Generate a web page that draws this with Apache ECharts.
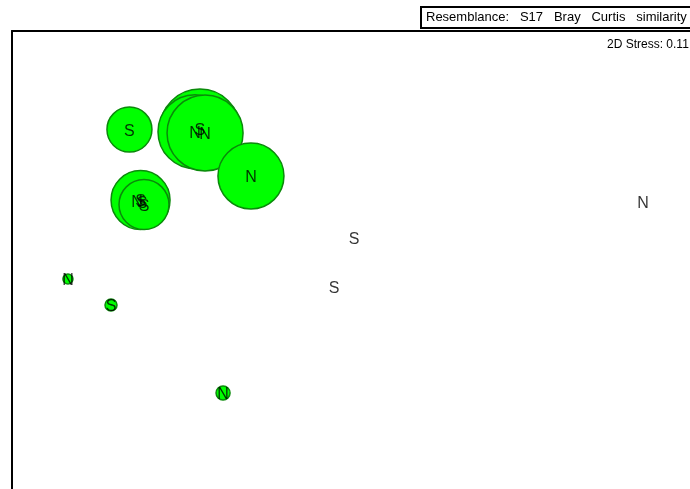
<!DOCTYPE html>
<html>
<head>
<meta charset="utf-8">
<script src="https://cdn.jsdelivr.net/npm/echarts@6/dist/echarts.min.js"></script>
<style>
  html, body { margin: 0; padding: 0; background: #fff; }
  #chart { width: 690px; height: 489px; }
</style>
</head>
<body>
<div id="chart"></div>
<script>
// MDS ordination (arbitrary units), one entry per sample
var sites = ["N", "S", "S", "S", "N", "N", "N", "S", "S", "N", "S", "N", "N", "S", "S"];
var mdsX = [-0.667, -0.633, -0.247, -0.717, -0.280, -0.213, 0.093, -0.643, -0.620, -1.127, -0.840, -0.093, 2.707, 0.780, 0.647];
var mdsY = [0.067, 0.060, 0.547, 0.543, 0.529, 0.520, 0.233, 0.073, 0.043, -0.453, -0.627, -1.213, 0.060, -0.180, -0.507];
// bubble variable (drawn as circle diameter)
var bubble = [44, 40, 80, 45, 74, 76, 66, 59, 50, 10, 12, 14, 0, 0, 0];

var chart = echarts.init(document.getElementById("chart"));

var bubbleData = [], labelData = [];
sites.forEach(function (s, i) {
  bubbleData.push({ value: [mdsX[i], mdsY[i]], symbolSize: bubble[i] });
  labelData.push({ value: [mdsX[i], mdsY[i]], name: s });
});

var labelFont = "Liberation Sans, Arial, sans-serif";
var frameLine = { show: true, onZero: false, lineStyle: { color: "#000", width: 2 } };

chart.setOption({
  animation: false,
  grid: { left: 12, top: 31, right: 0, bottom: 0, outerBoundsMode: "none" },
  xAxis: {
    type: "value", min: -1.5, max: 3.02, position: "top",
    axisLine: frameLine, axisTick: { show: false }, axisLabel: { show: false }, splitLine: { show: false }
  },
  yAxis: {
    type: "value", min: -1.853, max: 1.2, position: "left",
    axisLine: frameLine, axisTick: { show: false }, axisLabel: { show: false }, splitLine: { show: false }
  },
  title: {
    text: "Resemblance:   S17   Bray   Curtis   similarity",
    left: 421, top: 7,
    padding: [4, 20, 4, 5],
    borderColor: "#000", borderWidth: 2,
    textStyle: { fontSize: 13, fontWeight: "normal", color: "#000", fontFamily: labelFont }
  },
  graphic: [{
    type: "text", left: 607, top: 39,
    style: { text: "2D Stress: 0.11", fill: "#000", font: "12px " + labelFont }
  }],
  series: [
    {
      type: "scatter",
      data: bubbleData,
      itemStyle: { color: "#00ff00", borderColor: "#0a8a0a", borderWidth: 1.5, opacity: 1 },
      emphasis: { disabled: true },
      silent: true
    },
    {
      type: "scatter",
      data: labelData,
      symbolSize: 1,
      z: 5,
      itemStyle: { color: "rgba(0,0,0,0)" },
      label: {
        show: true, position: "inside", offset: [0, 2],
        formatter: function (p) { return p.name; },
        color: "#000", fontSize: 16, fontFamily: labelFont
      },
      silent: true
    }
  ]
});
</script>
</body>
</html>
